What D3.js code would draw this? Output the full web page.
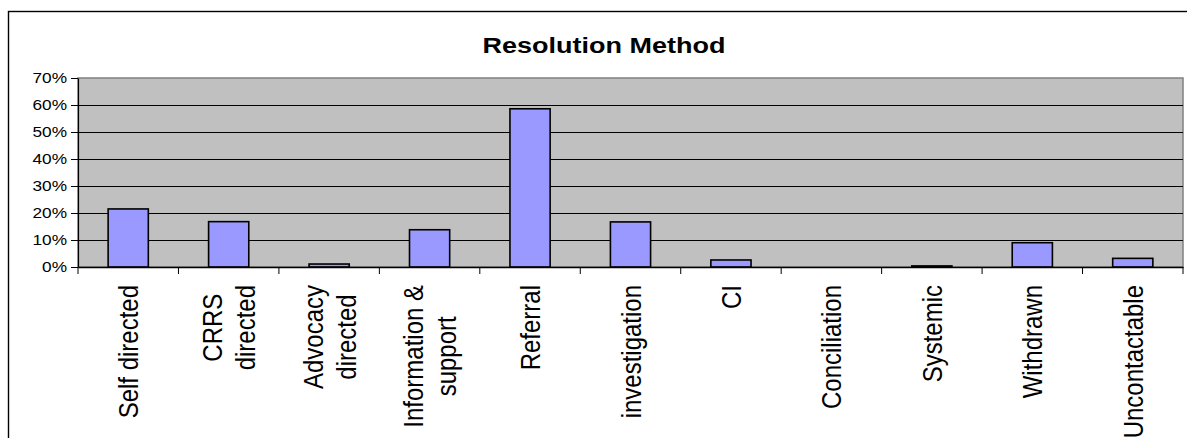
<!DOCTYPE html>
<html>
<head>
<meta charset="utf-8">
<script src="https://cdn.jsdelivr.net/npm/d3@7"></script>
<style>
  html, body { margin: 0; padding: 0; background: #fff; }
  svg { display: block; }
  text { font-family: "Liberation Sans", Arial, sans-serif; fill: #000; }
</style>
</head>
<body>
<svg id="chart" width="1187" height="438"></svg>
<script>
const title = "Resolution Method";
const categories = ["Self directed","CRRS directed","Advocacy directed","Information & support","Referral","investigation","CI","Conciliation","Systemic","Withdrawn","Uncontactable"];
const categoryLines = [["Self directed"],["CRRS","directed"],["Advocacy","directed"],["Information &","support"],["Referral"],["investigation"],["CI"],["Conciliation"],["Systemic"],["Withdrawn"],["Uncontactable"]];
const values = [21.5, 16.8, 1.1, 13.8, 58.6, 16.7, 2.6, 0, 0.4, 9.0, 3.2];
const yTicks = [0, 10, 20, 30, 40, 50, 60, 70];

const svg = d3.select("#chart");
const W = 1187, H = 438;
const plot = {left: 78, right: 1183, top: 78, bottom: 267};

// outer chart border
svg.append("rect")
  .attr("x", 8.5).attr("y", 11.5)
  .attr("width", W + 20).attr("height", H + 20)
  .attr("fill", "#fff").attr("stroke", "#000").attr("stroke-width", 1.4);

const x = d3.scaleBand().domain(categories).range([plot.left, plot.right]).paddingInner(0.6).paddingOuter(0.3);
const x0 = d3.scaleBand().domain(categories).range([plot.left, plot.right]).padding(0);
const y = d3.scaleLinear().domain([0, 70]).range([plot.bottom, plot.top]);

// plot area
svg.append("rect")
  .attr("x", plot.left).attr("y", plot.top)
  .attr("width", plot.right - plot.left).attr("height", plot.bottom - plot.top)
  .attr("fill", "#C0C0C0").attr("stroke", "#808080").attr("stroke-width", 1.5);

// gridlines
svg.append("g").selectAll("line")
  .data(yTicks.filter(d => d > 0 && d < 70))
  .join("line")
  .attr("x1", plot.left).attr("x2", plot.right)
  .attr("y1", d => Math.round(y(d)) + 0.5).attr("y2", d => Math.round(y(d)) + 0.5)
  .attr("stroke", "#000").attr("stroke-width", 1);

// bars
svg.append("g").selectAll("rect")
  .data(categories.map((c, i) => ({c, v: values[i]})).filter(d => d.v > 0))
  .join("rect")
  .attr("x", d => x(d.c))
  .attr("y", d => y(d.v))
  .attr("width", x.bandwidth())
  .attr("height", d => y(0) - y(d.v))
  .attr("fill", "#9999FF")
  .attr("stroke", "#000").attr("stroke-width", 1.6);

// y axis
const sx = 1.15;
const yAxis = svg.append("g")
  .attr("transform", `translate(${plot.left},0)`)
  .call(d3.axisLeft(y).tickValues(yTicks).tickFormat(d => d + "%").tickSize(7).tickSizeOuter(0));
yAxis.select(".domain").attr("stroke", "#000").attr("stroke-width", 1.2);
yAxis.selectAll(".tick line").attr("stroke", "#000").attr("stroke-width", 1);
yAxis.selectAll(".tick text")
  .attr("font-size", 15)
  .attr("font-family", "Liberation Sans, Arial, sans-serif")
  .attr("x", -11 / sx)
  .attr("transform", `scale(${sx},1)`);

// x axis
const xAxis = svg.append("g")
  .attr("transform", `translate(0,${plot.bottom})`)
  .call(d3.axisBottom(x0).tickSize(0).tickFormat(""));
xAxis.select(".domain").attr("stroke", "#000").attr("stroke-width", 1.4);
svg.append("g").selectAll("line")
  .data(d3.range(categories.length + 1))
  .join("line")
  .attr("x1", i => plot.left + i * x0.step()).attr("x2", i => plot.left + i * x0.step())
  .attr("y1", plot.bottom).attr("y2", plot.bottom + 7)
  .attr("stroke", "#000").attr("stroke-width", 1);

// category labels
const labelFont = 24, lsx = 1.12, lineGap = 33, labelTop = 285;
categories.forEach((c, i) => {
  const cx = x0(c) + x0.bandwidth() / 2;
  const lines = categoryLines[i];
  const g = svg.append("g").attr("transform", `translate(${cx},${labelTop}) rotate(-90) scale(1,${lsx})`);
  const texts = lines.map((ln, j) => g.append("text")
    .attr("font-size", labelFont)
    .attr("text-anchor", "middle")
    .attr("y", (10 + (j - (lines.length - 1) / 2) * lineGap) / lsx)
    .text(ln));
  const L = d3.max(texts, t => t.node().getComputedTextLength());
  texts.forEach(t => t.attr("x", -L / 2));
});

// title
svg.append("text")
  .attr("transform", `translate(604,53) scale(1.2,1)`)
  .attr("text-anchor", "middle")
  .attr("font-size", 22.5)
  .attr("font-weight", "bold")
  .text(title);
</script>
</body>
</html>
